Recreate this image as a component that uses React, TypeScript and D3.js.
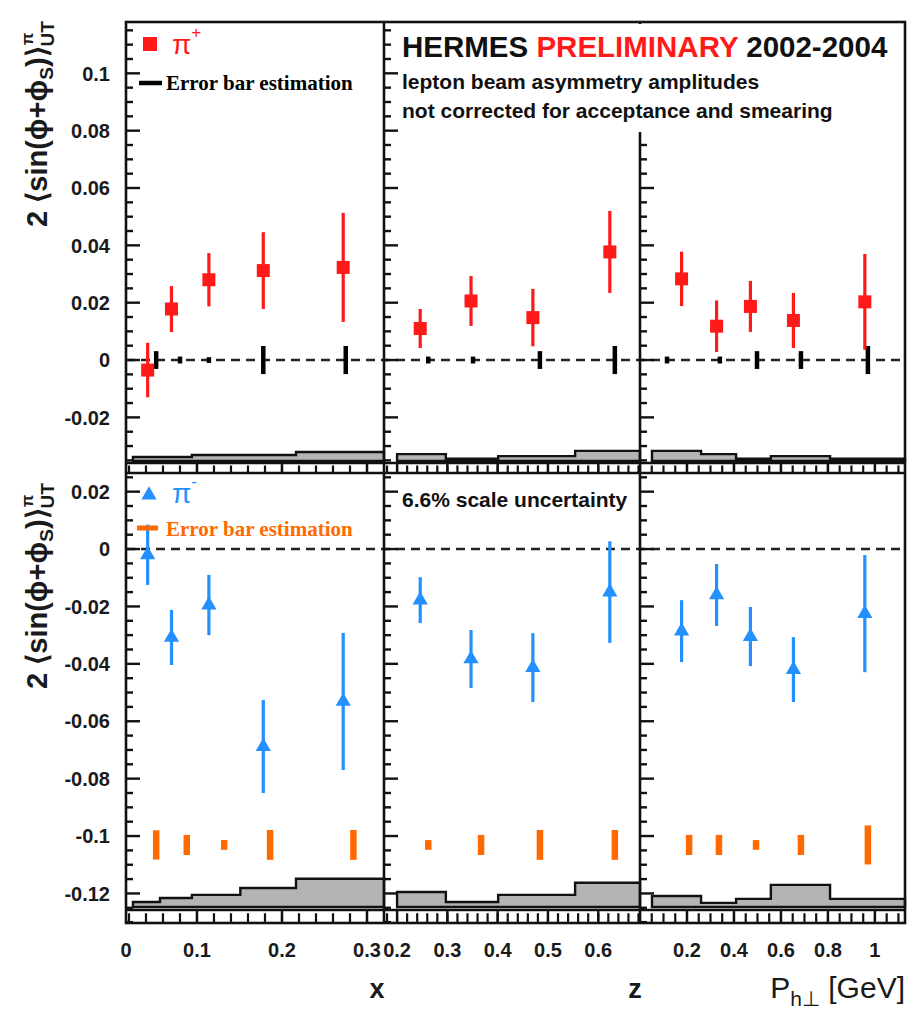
import React from "react";
import * as d3 from "d3";

// ---------- data ----------
// bin centres of the measured points
const xBins = [0.042, 0.07, 0.114, 0.178, 0.272];
const zBins = [0.246, 0.347, 0.47, 0.623];
const pBins = [0.177, 0.326, 0.47, 0.653, 0.957];

// pi+ amplitudes and statistical errors
const piPlusX = [-0.0035, 0.0178, 0.028, 0.0312, 0.0323];
const piPlusXErr = [0.0095, 0.008, 0.0093, 0.0134, 0.019];
const piPlusZ = [0.011, 0.0206, 0.0148, 0.0377];
const piPlusZErr = [0.0068, 0.0087, 0.01, 0.0143];
const piPlusP = [0.0283, 0.0118, 0.0187, 0.0138, 0.0203];
const piPlusPErr = [0.0095, 0.009, 0.0089, 0.0096, 0.0167];

// pi- amplitudes and statistical errors
const piMinusX = [-0.002, -0.0308, -0.0195, -0.0688, -0.0531];
const piMinusXErr = [0.0105, 0.0096, 0.0105, 0.0162, 0.0239];
const piMinusZ = [-0.0178, -0.0383, -0.0413, -0.015];
const piMinusZErr = [0.008, 0.0101, 0.012, 0.0177];
const piMinusP = [-0.0286, -0.016, -0.0305, -0.042, -0.0225];
const piMinusPErr = [0.0108, 0.0108, 0.0103, 0.0113, 0.0204];

// error bar estimation (pi+: drawn around 0, pi-: drawn around -0.103)
const estPlusX = [0.052, 0.08, 0.114, 0.178, 0.275];
const estPlusXErr = [0.0031, 0.0012, 0.001, 0.0049, 0.0049];
const estPlusZ = [0.262, 0.351, 0.484, 0.633];
const estPlusZErr = [0.0012, 0.0012, 0.0031, 0.0049];
const estPlusP = [0.115, 0.34, 0.498, 0.685, 0.97];
const estPlusPErr = [0.0012, 0.0012, 0.0031, 0.0031, 0.0049];
const estPlusCentre = 0;

const estMinusX = [0.052, 0.088, 0.132, 0.186, 0.284];
const estMinusXErr = [0.0051, 0.0035, 0.0017, 0.0052, 0.0052];
const estMinusZ = [0.262, 0.367, 0.484, 0.633];
const estMinusZErr = [0.0017, 0.0035, 0.0052, 0.0052];
const estMinusP = [0.209, 0.336, 0.494, 0.685, 0.97];
const estMinusPErr = [0.0035, 0.0035, 0.0017, 0.0035, 0.0068];
const estMinusCentre = -0.1031;

// systematic bands: bin edges and heights
const xEdges = [0.0247, 0.0565, 0.094, 0.151, 0.2165, 0.32];
const zEdges = [0.2, 0.297, 0.401, 0.554, 0.683];
const pEdges = [0.051, 0.26, 0.409, 0.557, 0.809, 1.128];
const sysPlusX = [0.0014, 0.0014, 0.0021, 0.0021, 0.0031];
const sysPlusZ = [0.0024, 0.0008, 0.0017, 0.0035];
const sysPlusP = [0.0035, 0.0024, 0.0008, 0.0017, 0.0008];
const sysMinusX = [0.0017, 0.0031, 0.0042, 0.0066, 0.0098];
const sysMinusZ = [0.0052, 0.0017, 0.0042, 0.0084];
const sysMinusP = [0.0038, 0.0014, 0.0028, 0.0077, 0.0028];
const sysBasePlus = -0.0352;
const sysBaseMinus = -0.1247;

// axis ticks
const xTicks = [0, 0.1, 0.2, 0.3];
const zTicks = [0.2, 0.3, 0.4, 0.5, 0.6];
const pTicks = [0.2, 0.4, 0.6, 0.8, 1];
const yTicksTop = [-0.02, 0, 0.02, 0.04, 0.06, 0.08, 0.1];
const yTicksBottom = [-0.12, -0.1, -0.08, -0.06, -0.04, -0.02, 0, 0.02];

// ---------- layout ----------
const W = 911;
const H = 1010;
const colEdges = [126, 384, 640, 905];
const rowEdges = [22, 473, 923];
const stripH = [10, 13];

const RED = "#ff1a1a";
const BLUE = "#2290ff";
const ORANGE = "#ff6a00";
const GREY = "#b4b4b4";
const SANS = "'Liberation Sans', Arial, sans-serif";
const SERIF = "'Liberation Serif', 'Times New Roman', serif";

const xScales = [
  d3.scaleLinear().domain([0.0165, 0.32]).range([colEdges[0], colEdges[1]]).clamp(true),
  d3.scaleLinear().domain([0.174, 0.683]).range([colEdges[1], colEdges[2]]),
  d3.scaleLinear().domain([0, 1.128]).range([colEdges[2], colEdges[3]]),
];
const minorStep = [0.02, 0.02, 0.05];
const majorTicks = [xTicks, zTicks, pTicks];

const yScales = [
  d3.scaleLinear().domain([-0.0394, 0.1179]).range([rowEdges[1], rowEdges[0]]),
  d3.scaleLinear().domain([-0.1303, 0.0265]).range([rowEdges[2], rowEdges[1]]),
];

const fmt = (v: number) => String(+v.toFixed(3));

type Series = { pos: number[]; val: number[]; err: number[] };

const plusSeries: Series[] = [
  { pos: xBins, val: piPlusX, err: piPlusXErr },
  { pos: zBins, val: piPlusZ, err: piPlusZErr },
  { pos: pBins, val: piPlusP, err: piPlusPErr },
];
const minusSeries: Series[] = [
  { pos: xBins, val: piMinusX, err: piMinusXErr },
  { pos: zBins, val: piMinusZ, err: piMinusZErr },
  { pos: pBins, val: piMinusP, err: piMinusPErr },
];
const plusEst = [
  { pos: estPlusX, err: estPlusXErr },
  { pos: estPlusZ, err: estPlusZErr },
  { pos: estPlusP, err: estPlusPErr },
];
const minusEst = [
  { pos: estMinusX, err: estMinusXErr },
  { pos: estMinusZ, err: estMinusZErr },
  { pos: estMinusP, err: estMinusPErr },
];
const edges = [xEdges, zEdges, pEdges];
const sysPlus = [sysPlusX, sysPlusZ, sysPlusP];
const sysMinus = [sysMinusX, sysMinusZ, sysMinusP];

function bandPath(
  x: d3.ScaleLinear<number, number>,
  y: d3.ScaleLinear<number, number>,
  e: number[],
  h: number[],
  base: number
) {
  const pts: [number, number][] = h.map((v, i) => [e[i], base + v]);
  pts.push([e[e.length - 1], base + h[h.length - 1]]);
  const area = d3
    .area<[number, number]>()
    .x((d) => x(d[0]))
    .y0(y(base))
    .y1((d) => y(d[1]))
    .curve(d3.curveStepAfter);
  return area(pts) || "";
}

const triangle = d3.symbol().type(d3.symbolTriangle).size(100)() || "";

function YTicks({ row }: { row: number }) {
  const y = yScales[row];
  const [lo, hi] = y.domain();
  const vals = d3.range(Math.ceil(lo / 0.005) * 0.005, hi, 0.005);
  return (
    <g>
      {colEdges.slice(0, 3).map((cx, c) =>
        vals.map((v, i) => {
          const major = Math.abs(v / 0.02 - Math.round(v / 0.02)) < 1e-6;
          return (
            <line
              key={`${c}-${i}`}
              x1={cx}
              x2={cx + (major ? 14 : 7)}
              y1={y(v)}
              y2={y(v)}
              stroke="#111"
              strokeWidth={2.4}
            />
          );
        })
      )}
    </g>
  );
}

function XStrip({ row }: { row: number }) {
  const bottom = rowEdges[row + 1];
  const top = bottom - stripH[row];
  return (
    <g>
      <line x1={colEdges[0]} x2={colEdges[3]} y1={top} y2={top} stroke="#111" strokeWidth={2.4} />
      {xScales.map((x, c) => {
        const [lo, hi] = x.domain();
        const minors = d3.range(Math.ceil(lo / minorStep[c]) * minorStep[c], hi, minorStep[c]);
        return (
          <g key={c}>
            {minors.map((v, i) => (
              <line
                key={`m${i}`}
                x1={x(v)}
                x2={x(v)}
                y1={bottom}
                y2={bottom - stripH[row] * 0.75}
                stroke="#111"
                strokeWidth={2.2}
              />
            ))}
            {majorTicks[c]
              .filter((v) => v > lo && v < hi)
              .map((v, i) => (
                <line key={`M${i}`} x1={x(v)} x2={x(v)} y1={bottom} y2={top} stroke="#111" strokeWidth={2.4} />
              ))}
          </g>
        );
      })}
    </g>
  );
}

function YTitle({ cy, sup }: { cy: number; sup: string }) {
  return (
    <text
      transform={`translate(47, ${cy}) rotate(-90)`}
      textAnchor="middle"
      fontFamily={SANS}
      fontWeight="bold"
      fontSize={29}
      fill="#1a1a1a"
    >
      2 ⟨sin(ϕ+ϕ
      <tspan fontSize={19} dy={6}>S</tspan>
      <tspan dy={-6}>)⟩</tspan>
      <tspan fontSize={19} dy={7}>UT</tspan>
      <tspan fontSize={16} dx={-24} dy={-21}>{sup}</tspan>
    </text>
  );
}

export default function App() {
  return (
    <svg
      width={W}
      height={H}
      viewBox={`0 0 ${W} ${H}`}
      style={{ position: "absolute", left: 0, top: 0, background: "#fff" }}
    >
      <rect width={W} height={H} fill="#fff" />

      {/* systematic bands */}
      {[0, 1].map((r) =>
        xScales.map((x, c) => (
          <path
            key={`band${r}${c}`}
            d={bandPath(
              x,
              yScales[r],
              edges[c],
              r === 0 ? sysPlus[c] : sysMinus[c],
              r === 0 ? sysBasePlus : sysBaseMinus
            )}
            fill={GREY}
            stroke="#111"
            strokeWidth={2.4}
          />
        ))
      )}

      {/* zero lines */}
      {[0, 1].map((r) => (
        <line
          key={`zero${r}`}
          x1={colEdges[0]}
          x2={colEdges[3]}
          y1={yScales[r](0)}
          y2={yScales[r](0)}
          stroke="#222"
          strokeWidth={2.6}
          strokeDasharray="9,6"
        />
      ))}

      {/* tick strips and y ticks */}
      <XStrip row={0} />
      <XStrip row={1} />
      <YTicks row={0} />
      <YTicks row={1} />

      {/* error bar estimation */}
      {plusEst.map((s, c) =>
        s.pos.map((p, i) => (
          <line
            key={`ep${c}${i}`}
            x1={xScales[c](p)}
            x2={xScales[c](p)}
            y1={yScales[0](estPlusCentre + s.err[i])}
            y2={yScales[0](estPlusCentre - s.err[i])}
            stroke="#000"
            strokeWidth={4.5}
          />
        ))
      )}
      {minusEst.map((s, c) =>
        s.pos.map((p, i) => (
          <line
            key={`em${c}${i}`}
            x1={xScales[c](p)}
            x2={xScales[c](p)}
            y1={yScales[1](estMinusCentre + s.err[i])}
            y2={yScales[1](estMinusCentre - s.err[i])}
            stroke={ORANGE}
            strokeWidth={6.5}
          />
        ))
      )}

      {/* pi+ points */}
      {plusSeries.map((s, c) =>
        s.pos.map((p, i) => {
          const cx = xScales[c](p);
          const cy = yScales[0](s.val[i]);
          return (
            <g key={`pp${c}${i}`}>
              <line
                x1={cx}
                x2={cx}
                y1={yScales[0](s.val[i] + s.err[i])}
                y2={yScales[0](s.val[i] - s.err[i])}
                stroke={RED}
                strokeWidth={3.2}
              />
              <rect x={cx - 6.5} y={cy - 6.5} width={13} height={13} fill={RED} />
            </g>
          );
        })
      )}

      {/* pi- points */}
      {minusSeries.map((s, c) =>
        s.pos.map((p, i) => {
          const cx = xScales[c](p);
          const cy = yScales[1](s.val[i]);
          return (
            <g key={`pm${c}${i}`}>
              <line
                x1={cx}
                x2={cx}
                y1={yScales[1](s.val[i] + s.err[i])}
                y2={yScales[1](s.val[i] - s.err[i])}
                stroke={BLUE}
                strokeWidth={3.2}
              />
              <path d={triangle} transform={`translate(${cx},${cy})`} fill={BLUE} />
            </g>
          );
        })
      )}

      {/* frame */}
      <rect
        x={colEdges[0]}
        y={rowEdges[0]}
        width={colEdges[3] - colEdges[0]}
        height={rowEdges[2] - rowEdges[0]}
        fill="none"
        stroke="#111"
        strokeWidth={2.6}
      />
      {[colEdges[1], colEdges[2]].map((cx) => (
        <line key={`div${cx}`} x1={cx} x2={cx} y1={rowEdges[0]} y2={rowEdges[2]} stroke="#111" strokeWidth={2.6} />
      ))}
      <line x1={colEdges[0]} x2={colEdges[3]} y1={rowEdges[1]} y2={rowEdges[1]} stroke="#111" strokeWidth={2.6} />

      {/* y tick labels */}
      {[yTicksTop, yTicksBottom].map((ticks, r) =>
        ticks.map((v) => (
          <text
            key={`yl${r}${v}`}
            x={110}
            y={yScales[r](v)}
            dy="0.36em"
            textAnchor="end"
            fontFamily={SANS}
            fontWeight="bold"
            fontSize={20}
            fill="#1a1a1a"
          >
            {fmt(v)}
          </text>
        ))
      )}

      {/* x tick labels */}
      {majorTicks.map((ticks, c) =>
        ticks.map((v) => (
          <text
            key={`xl${c}${v}`}
            x={xScales[c](v)}
            y={957}
            textAnchor="middle"
            fontFamily={SANS}
            fontWeight="bold"
            fontSize={20}
            fill="#1a1a1a"
          >
            {fmt(v)}
          </text>
        ))
      )}

      {/* axis titles */}
      <text x={377} y={998} textAnchor="middle" fontFamily={SANS} fontWeight="bold" fontSize={27} fill="#1a1a1a">
        x
      </text>
      <text x={635} y={998} textAnchor="middle" fontFamily={SANS} fontWeight="bold" fontSize={27} fill="#1a1a1a">
        z
      </text>
      <text x={905} y={998} textAnchor="end" fontFamily={SANS} fontSize={30} fill="#1a1a1a">
        P<tspan fontSize={21} dy={8}>h⊥</tspan>
        <tspan dy={-8}> [GeV]</tspan>
      </text>

      <YTitle cy={124} sup="π" />
      <YTitle cy={586} sup="π" />

      {/* title block on a white box */}
      <rect x={399} y={24} width={504} height={108} fill="#fff" />
      <text x={402} y={57} fontFamily={SANS} fontWeight="bold" fontSize={29.5} fill="#111">
        HERMES <tspan fill="#ff1a1a">PRELIMINARY</tspan> 2002-2004
      </text>
      <text x={402} y={89} fontFamily={SANS} fontWeight="bold" fontSize={21} fill="#111">
        lepton beam asymmetry amplitudes
      </text>
      <text x={402} y={118} fontFamily={SANS} fontWeight="bold" fontSize={21} fill="#111">
        not corrected for acceptance and smearing
      </text>
      <text x={402} y={507} fontFamily={SANS} fontWeight="bold" fontSize={21} fill="#111">
        6.6% scale uncertainty
      </text>

      {/* legends */}
      <rect x={143} y={37} width={14} height={14} fill={RED} />
      <text x={172} y={54} fontFamily={SANS} fontSize={28} fill={RED}>
        π<tspan fontSize={17} dy={-16}>+</tspan>
      </text>
      <line x1={139} x2={162} y1={83} y2={83} stroke="#000" strokeWidth={4.5} />
      <text x={166} y={90} fontFamily={SERIF} fontWeight="bold" fontSize={21} fill="#000">
        Error bar estimation
      </text>

      <path d={triangle} transform="translate(149,495)" fill={BLUE} />
      <text x={172} y={503} fontFamily={SANS} fontSize={28} fill={BLUE}>
        π<tspan fontSize={17} dy={-16}>-</tspan>
      </text>
      <line x1={137} x2={158} y1={528} y2={528} stroke={ORANGE} strokeWidth={5} />
      <text x={166} y={536} fontFamily={SERIF} fontWeight="bold" fontSize={21} fill={ORANGE}>
        Error bar estimation
      </text>
    </svg>
  );
}
